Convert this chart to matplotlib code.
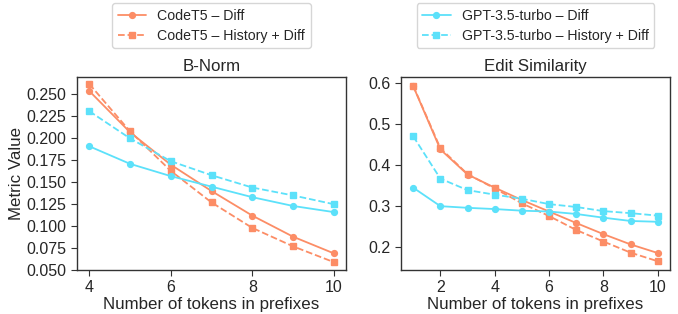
import matplotlib
matplotlib.use("Agg")
import matplotlib.pyplot as plt
import seaborn as sns

sns.set_style("ticks")
plt.rcParams["font.family"] = ["Liberation Sans", "DejaVu Sans"]

# B-Norm panel
bnorm_x = [4, 5, 6, 7, 8, 9, 10]
bnorm_codet5_diff = [0.254, 0.207, 0.170, 0.140, 0.112, 0.088, 0.069]
bnorm_codet5_hist = [0.262, 0.208, 0.163, 0.127, 0.098, 0.077, 0.059]
bnorm_gpt_diff = [0.191, 0.171, 0.157, 0.145, 0.133, 0.123, 0.116]
bnorm_gpt_hist = [0.231, 0.200, 0.174, 0.158, 0.144, 0.135, 0.125]

# Edit Similarity panel
es_x = [1, 2, 3, 4, 5, 6, 7, 8, 9, 10]
es_codet5_diff = [0.592, 0.438, 0.377, 0.345, 0.315, 0.287, 0.259, 0.232, 0.207, 0.186]
es_codet5_hist = [0.593, 0.441, 0.378, 0.343, 0.307, 0.276, 0.242, 0.214, 0.187, 0.166]
es_gpt_diff = [0.345, 0.300, 0.296, 0.293, 0.289, 0.287, 0.281, 0.272, 0.264, 0.262]
es_gpt_hist = [0.470, 0.367, 0.339, 0.328, 0.318, 0.305, 0.298, 0.288, 0.283, 0.277]

ORANGE = "#fc8d66"
CYAN = "#5ce1fa"

fig = plt.figure(figsize=(6.78, 3.14), dpi=100)
ax1 = fig.add_axes([0.1136, 0.140, 0.3968, 0.615])
ax2 = fig.add_axes([0.5914, 0.140, 0.3968, 0.615])


def draw(ax, x, c_diff, c_hist, g_diff, g_hist):
    lines = {}
    lines["CodeT5 – Diff"] = ax.plot(x, c_diff, color=ORANGE, lw=1.3, marker="o", ms=4.2)[0]
    lines["CodeT5 – History + Diff"] = ax.plot(x, c_hist, color=ORANGE, lw=1.3, ls="--", marker="s", ms=3.8)[0]
    lines["GPT-3.5-turbo – Diff"] = ax.plot(x, g_diff, color=CYAN, lw=1.3, marker="o", ms=4.2)[0]
    lines["GPT-3.5-turbo – History + Diff"] = ax.plot(x, g_hist, color=CYAN, lw=1.3, ls="--", marker="s", ms=3.8)[0]
    ax.tick_params(labelsize=11.5, length=4, color="#333333")
    for s in ax.spines.values():
        s.set_color("#333333")
        s.set_linewidth(1.0)
    ax.set_xlabel("Number of tokens in prefixes", fontsize=12.2, labelpad=1)
    return lines


lines = draw(ax1, bnorm_x, bnorm_codet5_diff, bnorm_codet5_hist, bnorm_gpt_diff, bnorm_gpt_hist)
draw(ax2, es_x, es_codet5_diff, es_codet5_hist, es_gpt_diff, es_gpt_hist)

ax1.set_title("B-Norm", fontsize=12.2, pad=4)
ax2.set_title("Edit Similarity", fontsize=12.2, pad=4)
ax1.set_ylabel("Metric Value", fontsize=12.2, labelpad=2)
ax1.set_ylim(0.05, 0.27)
ax1.set_xticks([4, 6, 8, 10])
ax1.set_yticks([0.05, 0.075, 0.1, 0.125, 0.15, 0.175, 0.2, 0.225, 0.25])
ax1.yaxis.set_major_formatter(matplotlib.ticker.FormatStrFormatter("%.3f"))
ax2.set_xticks([2, 4, 6, 8, 10])
ax2.set_yticks([0.2, 0.3, 0.4, 0.5, 0.6])

names = list(lines)
for idx, cx in ((slice(0, 2), 0.3116), (slice(2, 4), 0.7898)):
    fig.legend([lines[n] for n in names[idx]], names[idx], loc="upper center",
               bbox_to_anchor=(cx, 1.012), fontsize=10.2, frameon=True,
               handlelength=2.0, borderpad=0.4, labelspacing=0.4)

fig.savefig("out.png", dpi=100)
